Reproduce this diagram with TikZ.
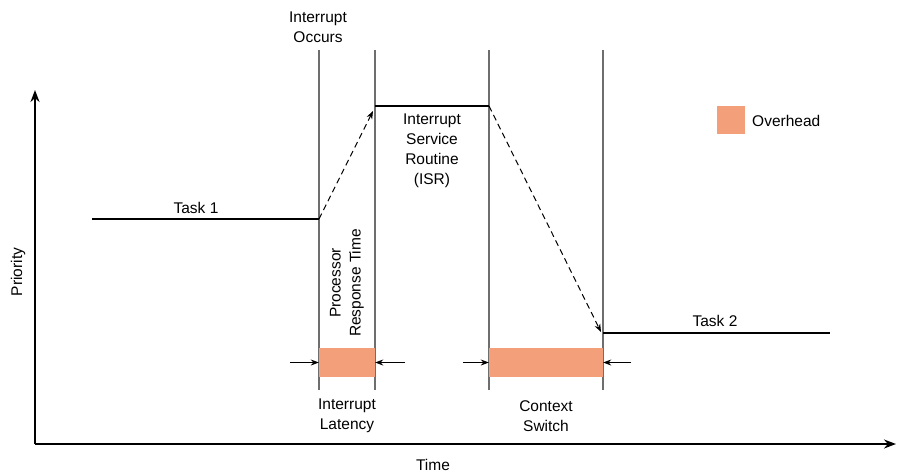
\documentclass[tikz,border=0pt]{standalone}
\usepackage{fontspec}
\setmainfont{Liberation Sans}
\usetikzlibrary{arrows.meta}
\definecolor{overhead}{RGB}{243,160,122}
\definecolor{vline}{RGB}{110,110,110}
\begin{document}
\begin{tikzpicture}[x=1pt,y=-1pt,
  lbl/.style={font=\fontsize{15.5}{20}\selectfont, align=center, inner sep=0pt},
  axis/.style={line width=1.8pt, -{Stealth[length=12pt,width=9pt]}},
  task/.style={line width=1.5pt},
  guide/.style={vline, line width=1.1pt},
  jump/.style={dashed, line width=1pt, dash pattern=on 6pt off 4pt, -{Stealth[length=8pt,width=6pt]}},
  boxarrow/.style={line width=0.8pt, -{Stealth[length=8pt,width=6pt]}},
  ovbox/.style={fill=overhead, draw=none}]
\useasboundingbox (0,0) rectangle (897,474);
% axes
\coordinate (O) at (35,444);
\coordinate (Ytop) at (35,90);
\coordinate (Xend) at (896,444);
\draw[axis] (O) -- (Ytop);
\draw[axis] (O) -- (Xend);
\node[lbl] (time) at (433,465) {Time};
\node[lbl, rotate=90] (prio) at (18,272) {Priority};
% vertical guides
\coordinate (v1t) at (319,50); \coordinate (v1b) at (319,390);
\coordinate (v2t) at (375,50); \coordinate (v2b) at (375,390);
\coordinate (v3t) at (489,50); \coordinate (v3b) at (489,390);
\coordinate (v4t) at (603,50); \coordinate (v4b) at (603,390);
\draw[guide] (v1t) -- (v1b);
\draw[guide] (v2t) -- (v2b);
\draw[guide] (v3t) -- (v3b);
\draw[guide] (v4t) -- (v4b);
% task lines
\coordinate (t1a) at (92,219); \coordinate (t1b) at (319,219);
\coordinate (isra) at (375,106); \coordinate (isrb) at (489,106);
\coordinate (t2a) at (603,333); \coordinate (t2b) at (830,333);
\draw[task] (t1a) -- (t1b);
\draw[task] (isra) -- (isrb);
\draw[task] (t2a) -- (t2b);
\coordinate (j1) at (373,111);
\coordinate (j2) at (601,332);
\draw[jump] (t1b) -- (j1);
\draw[jump] (isrb) -- (j2);
% overhead boxes
\node[ovbox, minimum width=56pt, minimum height=29pt, inner sep=0pt] (b1) at (347,362.5) {};
\node[ovbox, minimum width=114pt, minimum height=29pt, inner sep=0pt] (b2) at (546,362.5) {};
\coordinate (a1) at (290,362.5);
\coordinate (a2) at (405,362.5);
\coordinate (a3) at (463,362.5);
\coordinate (a4) at (631,362.5);
\draw[boxarrow] (a1) -- (b1.west);
\draw[boxarrow] (a2) -- (b1.east);
\draw[boxarrow] (a3) -- (b2.west);
\draw[boxarrow] (a4) -- (b2.east);
% legend
\node[ovbox, minimum width=28pt, minimum height=28pt, inner sep=0pt] (leg) at (731,120) {};
\node[lbl, anchor=west] (legt) at (752,121) {Overhead};
% labels
\node[lbl] (occ) at (318,27) {Interrupt\\Occurs};
\node[lbl] (task1) at (196,208) {Task 1};
\node[lbl] (task2) at (715,321) {Task 2};
\node[lbl] (isr) at (432,151) {Interrupt\\Service\\Routine\\(ISR)};
\node[lbl, rotate=90] (prt) at (347,283) {Processor\\Response Time};
\node[lbl] (lat) at (347,416) {Interrupt\\Latency};
\node[lbl] (cs) at (546,416) {Context\\Switch};
\end{tikzpicture}
\end{document}
